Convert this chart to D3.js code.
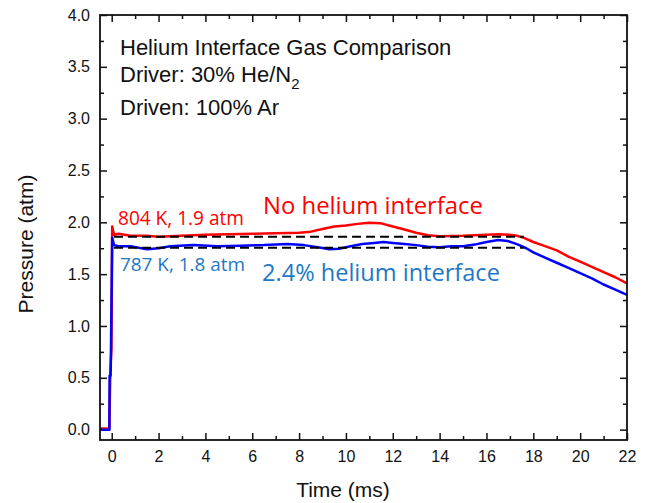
<!DOCTYPE html>
<html>
<head>
<meta charset="utf-8">
<script src="https://cdn.jsdelivr.net/npm/d3@7"></script>
<style>
  html, body { margin: 0; padding: 0; background: #fff; }
  svg { display: block; }
</style>
</head>
<body>
<svg id="chart" width="646" height="503"></svg>
<script>
// Pressure traces (atm) vs time (ms) for the two shock-tube runs
const redTime = [-0.5, -0.1, -0.08, -0.06, -0.03, -0.01, 0.02, 0.1, 0.3, 0.8, 1.5, 2, 3, 4, 5, 6, 7, 8, 8.5, 9, 9.5, 10, 10.5, 11, 11.5, 12, 12.5, 13, 13.5, 14, 15, 16, 16.5, 17, 17.3, 17.6, 18, 18.5, 19, 19.5, 20, 20.5, 21, 21.5, 22];
const redPressure = [0.01, 0.01, 0.3, 0.55, 0.7, 0.78, 1.96, 1.88, 1.89, 1.87, 1.87, 1.86, 1.87, 1.88, 1.885, 1.89, 1.895, 1.9, 1.91, 1.935, 1.96, 1.97, 1.985, 1.995, 1.99, 1.96, 1.93, 1.9, 1.875, 1.865, 1.87, 1.88, 1.885, 1.88, 1.87, 1.85, 1.81, 1.77, 1.73, 1.67, 1.62, 1.57, 1.52, 1.47, 1.41];

const blueTime = [-0.5, -0.1, -0.09, -0.05, -0.04, 0.02, 0.1, 0.3, 0.8, 1.5, 2, 2.5, 3.5, 4.5, 5.5, 6.5, 7.5, 8.2, 8.8, 9.3, 9.7, 10.2, 10.7, 11.2, 11.6, 12, 12.5, 13, 13.5, 14, 14.5, 15, 15.5, 16, 16.5, 16.9, 17.3, 17.7, 18, 18.5, 19, 19.5, 20, 20.5, 21, 21.5, 22];
const bluePressure = [0.0, 0.0, 0.52, 0.52, 0.6, 1.85, 1.78, 1.77, 1.77, 1.74, 1.75, 1.77, 1.78, 1.77, 1.775, 1.78, 1.79, 1.78, 1.76, 1.74, 1.745, 1.77, 1.79, 1.8, 1.81, 1.8, 1.79, 1.78, 1.765, 1.76, 1.77, 1.77, 1.785, 1.81, 1.83, 1.82, 1.79, 1.75, 1.71, 1.66, 1.61, 1.56, 1.51, 1.46, 1.4, 1.35, 1.3];

// Average post-shock pressure levels (dashed guides)
const plateauLevels = [1.86, 1.755];
const plateauSpan = [0.1, 17.6];

// Axis ticks
const xMajorTicks = [0, 2, 4, 6, 8, 10, 12, 14, 16, 18, 20, 22];
const xMinorTicks = [1, 3, 5, 7, 9, 11, 13, 15, 17, 19, 21];
const yMajorTicks = [0.0, 0.5, 1.0, 1.5, 2.0, 2.5, 3.0, 3.5, 4.0];
const yMinorTicks = [0.25, 0.75, 1.25, 1.75, 2.25, 2.75, 3.25, 3.75];

const svg = d3.select("#chart");
const plotLeft = 100, plotRight = 627, plotTop = 15, plotBottom = 440;

const x = d3.scaleLinear().domain([-0.5, 22]).range([plotLeft, plotRight]);
const y = d3.scaleLinear().domain([-0.1, 4.0]).range([plotBottom, plotTop]);

const tickFont = "'Liberation Sans', Arial, sans-serif";
const noteFont = "'Open Sans', Lato, sans-serif";

// --- axes: inward ticks on all four sides ---
function styleAxis(g) {
  g.select(".domain").remove();
  g.selectAll("line").attr("stroke", "#111").attr("stroke-width", 1.5);
  g.selectAll("text").attr("font-family", tickFont).attr("font-size", 16).attr("fill", "#111");
}

svg.append("g").attr("transform", `translate(0,${plotBottom})`)
  .call(d3.axisBottom(x).tickValues(xMajorTicks).tickSize(-7).tickPadding(11).tickFormat(d3.format("d")))
  .call(styleAxis);
svg.append("g").attr("transform", `translate(0,${plotBottom})`)
  .call(d3.axisBottom(x).tickValues(xMinorTicks).tickSize(-4).tickFormat(""))
  .call(styleAxis);
svg.append("g").attr("transform", `translate(0,${plotTop})`)
  .call(d3.axisTop(x).tickValues(xMajorTicks).tickSize(-7).tickFormat(""))
  .call(styleAxis);
svg.append("g").attr("transform", `translate(0,${plotTop})`)
  .call(d3.axisTop(x).tickValues(xMinorTicks).tickSize(-4).tickFormat(""))
  .call(styleAxis);

svg.append("g").attr("transform", `translate(${plotLeft},0)`)
  .call(d3.axisLeft(y).tickValues(yMajorTicks).tickSize(-7).tickPadding(10).tickFormat(d3.format(".1f")))
  .call(styleAxis);
svg.append("g").attr("transform", `translate(${plotLeft},0)`)
  .call(d3.axisLeft(y).tickValues(yMinorTicks).tickSize(-4).tickFormat(""))
  .call(styleAxis);
svg.append("g").attr("transform", `translate(${plotRight},0)`)
  .call(d3.axisRight(y).tickValues(yMajorTicks).tickSize(-7).tickFormat(""))
  .call(styleAxis);
svg.append("g").attr("transform", `translate(${plotRight},0)`)
  .call(d3.axisRight(y).tickValues(yMinorTicks).tickSize(-4).tickFormat(""))
  .call(styleAxis);

// --- traces ---
const line = d3.line().x(d => x(d[0])).y(d => y(d[1]));
const redData = d3.zip(redTime, redPressure);
const blueData = d3.zip(blueTime, bluePressure);

svg.append("path").datum(redData)
  .attr("d", line).attr("fill", "none").attr("stroke", "#ff0000")
  .attr("stroke-width", 2.5).attr("stroke-linejoin", "round");
svg.append("path").datum(blueData)
  .attr("d", line).attr("fill", "none").attr("stroke", "#0000ff")
  .attr("stroke-width", 2.5).attr("stroke-linejoin", "round");

svg.selectAll("line.plateau").data(plateauLevels).enter().append("line")
  .attr("class", "plateau")
  .attr("x1", x(plateauSpan[0])).attr("x2", x(plateauSpan[1]))
  .attr("y1", d => y(d)).attr("y2", d => y(d))
  .attr("stroke", "#000").attr("stroke-width", 2).attr("stroke-dasharray", "9,5");

// --- frame ---
svg.append("rect").attr("x", plotLeft).attr("y", plotTop)
  .attr("width", plotRight - plotLeft).attr("height", plotBottom - plotTop)
  .attr("fill", "none").attr("stroke", "#111").attr("stroke-width", 1.8);

// --- axis titles ---
svg.append("text").attr("x", 343).attr("y", 497).attr("text-anchor", "middle")
  .attr("font-family", tickFont).attr("font-size", 21).attr("fill", "#111")
  .text("Time (ms)");
svg.append("text").attr("transform", "translate(33,244) rotate(-90)").attr("text-anchor", "middle")
  .attr("font-family", tickFont).attr("font-size", 21).attr("fill", "#111")
  .text("Pressure (atm)");

// --- description block ---
const desc = svg.append("g").attr("font-family", tickFont).attr("font-size", 22).attr("fill", "#111");
desc.append("text").attr("x", 120).attr("y", 55).text("Helium Interface Gas Comparison");
const driver = desc.append("text").attr("x", 120).attr("y", 82);
driver.append("tspan").text("Driver: 30% He/N");
driver.append("tspan").attr("font-size", 15).attr("dy", 7).text("2");
desc.append("text").attr("x", 120).attr("y", 115).text("Driven: 100% Ar");

// --- trace annotations (font size chosen so each label spans its width) ---
function fittedLabel(txt, px, py, span, colour) {
  const t = svg.append("text").attr("x", px).attr("y", py)
    .attr("font-family", noteFont).attr("font-size", 20).attr("fill", colour).text(txt);
  const w = t.node().getComputedTextLength();
  t.attr("font-size", 20 * span / w);
  return t;
}
fittedLabel("No helium interface", 263, 214, 220, "#ff0000");
fittedLabel("2.4% helium interface", 262, 281, 238, "#1e78c8");
fittedLabel("804 K, 1.9 atm", 118, 225, 126, "#ff0000");
fittedLabel("787 K, 1.8 atm", 120, 271, 125, "#1e78c8");
</script>
</body>
</html>
